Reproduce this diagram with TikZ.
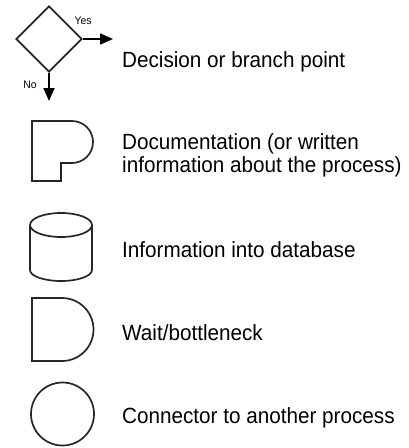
\documentclass[tikz,border=0pt]{standalone}
\usepackage{fontspec}
\setmainfont{Liberation Sans}[FakeStretch=0.94]
\usetikzlibrary{arrows.meta,shapes.geometric}
\begin{document}
\begin{tikzpicture}[x=1pt,y=-1pt,
  shape line/.style={draw=black!85, line width=1.7pt, line join=miter},
  flow/.style={draw=black, line width=1.7pt, -{Triangle[length=13pt,width=11pt]}},
  legend/.style={anchor=base west, inner sep=0pt, font=\fontsize{22}{23}\selectfont, align=left},
  tag/.style={inner sep=0pt, font=\fontsize{11}{12}\selectfont}]
\useasboundingbox (0,0) rectangle (409,448);

% decision diamond with its two exits
\node[diamond, shape line, minimum width=66pt, minimum height=66pt, inner sep=0pt] (dec) at (49,39) {};
\coordinate (yesend) at (113,39);
\coordinate (noend) at (49,101);
\draw[flow] (dec.east) -- (yesend);
\draw[flow] (dec.south) -- (noend);
\node[tag] (yes) at (83,21) {Yes};
\node[tag] (no) at (30,85) {No};
\node[legend] (tdec) at (122,67) {Decision or branch point};

% documentation symbol
\draw[shape line] (32,121) -- (72,121) arc[start angle=-90, end angle=90, radius=21]
  -- (61,163) -- (61,181) -- (32,181) -- cycle;
\node[legend] (tdoc) at (122,172) {Documentation (or written\\information about the process)};

% database cylinder
\draw[shape line] (61,225) ellipse[x radius=31, y radius=12];
\draw[shape line] (30,225) -- (30,270) arc[start angle=180, end angle=0, x radius=31, y radius=11] -- (92,225);
\node[legend] (tdb) at (122,257) {Information into database};

% wait / delay symbol
\draw[shape line] (62,298) -- (32,298) -- (32,361) -- (62,361)
  arc[start angle=90, end angle=-90, radius=31.5];
\node[legend] (twait) at (122,340) {Wait/bottleneck};

% off-page connector
\node[circle, shape line, minimum size=63pt, inner sep=0pt] (conn) at (62.5,414) {};
\node[legend] (tconn) at (122,423) {Connector to another process};
\end{tikzpicture}
\end{document}
